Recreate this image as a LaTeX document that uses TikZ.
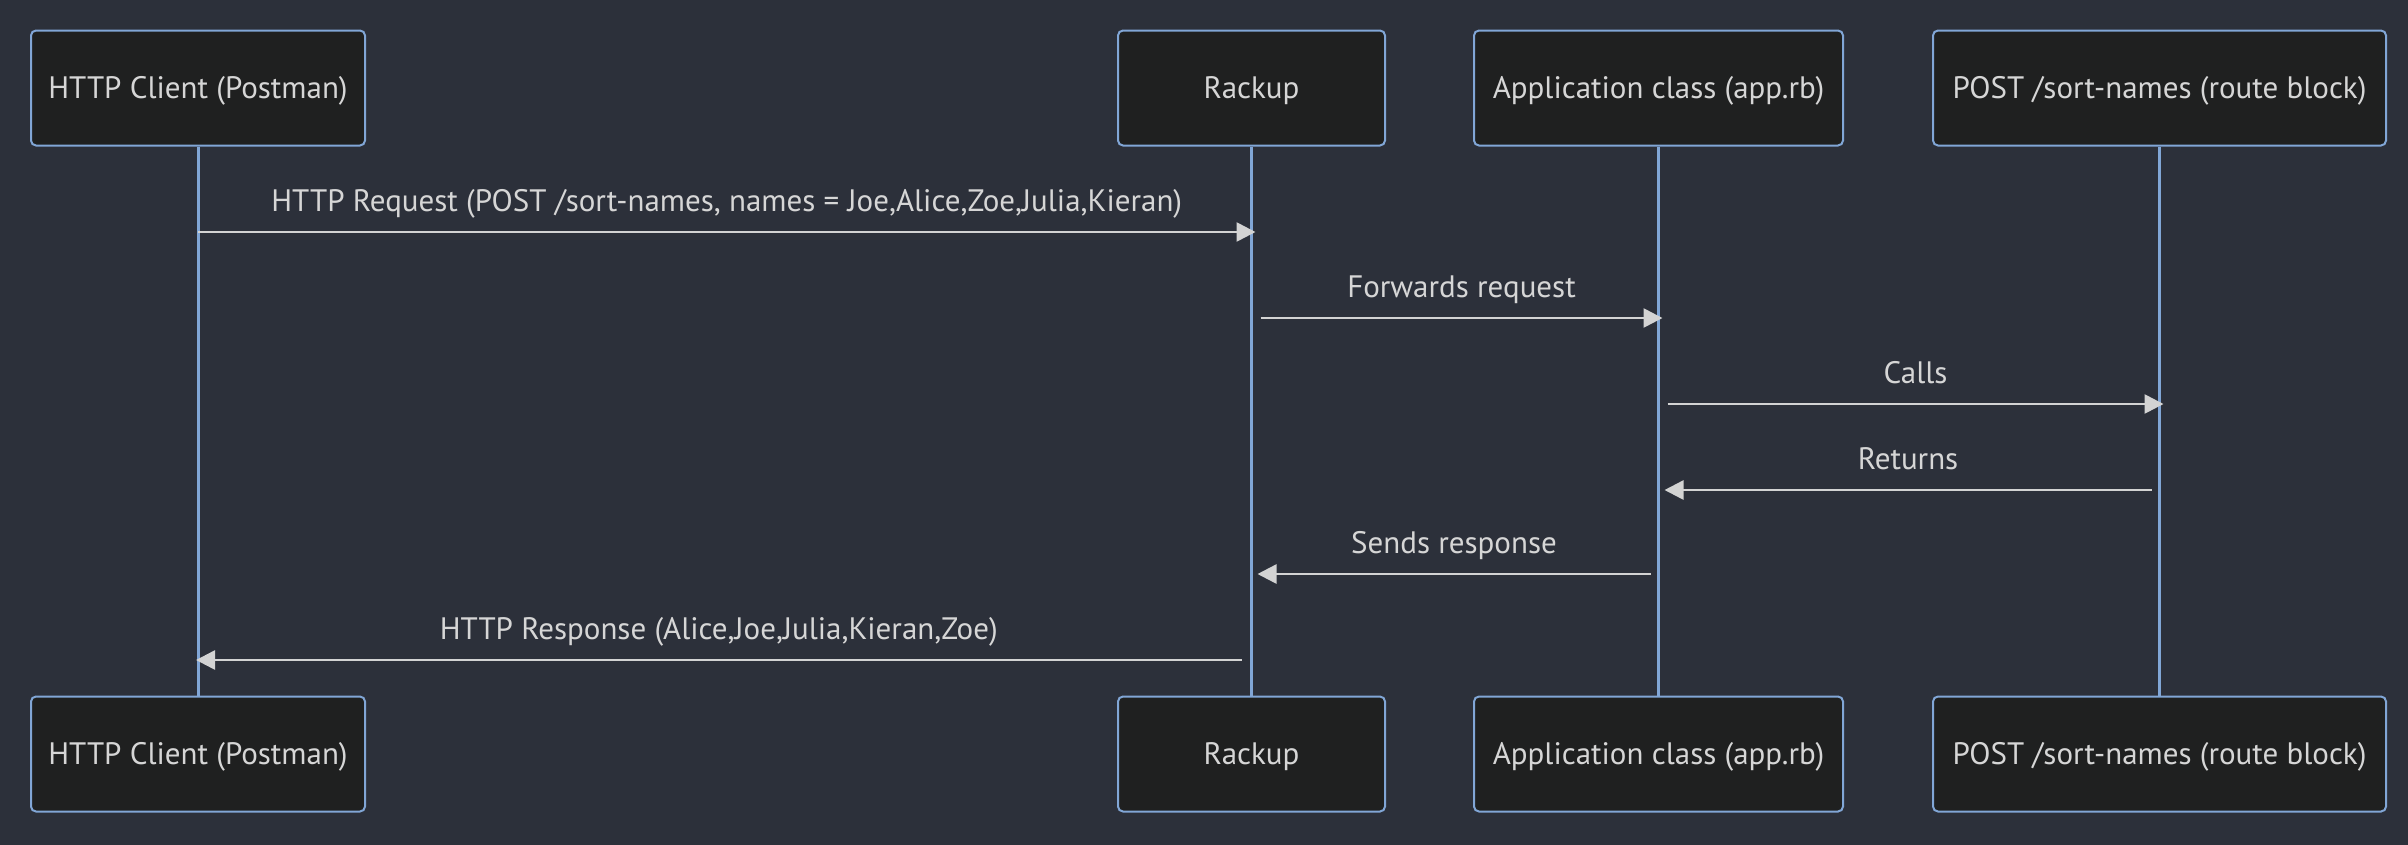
\documentclass[tikz,border=0pt]{standalone}
\usepackage{fontspec}
\setmainfont{PT Sans}
\usetikzlibrary{arrows.meta,calc}
\definecolor{bgc}{HTML}{2C303A}
\definecolor{boxfill}{HTML}{1F2020}
\definecolor{boxline}{HTML}{81A6D6}
\definecolor{txt}{HTML}{D6D6D6}
\definecolor{msg}{HTML}{D3D3D3}
\tikzset{
  actor/.style={draw=boxline, line width=2pt, fill=boxfill, rounded corners=5pt,
    minimum height=115pt, text=txt, font=\fontsize{31}{36}\selectfont, inner sep=0pt,
    text height=21.5pt, text depth=0pt},
  lifeline/.style={draw=boxline, line width=3pt},
  msgline/.style={draw=msg, line width=2.6pt, -{Triangle[length=19pt,width=19pt]}},
  msglabel/.style={text=txt, font=\fontsize{31}{36}\selectfont, anchor=base, inner sep=0pt}
}
\begin{document}
\begin{tikzpicture}[x=1pt,y=-1pt]
\useasboundingbox (0,0) rectangle (2408,844);
\fill[bgc] (-10,-10) rectangle (2418,854);
% top actors
\node[actor, minimum width=334pt] (a1) at (198,88) {HTTP Client (Postman)};
\node[actor, minimum width=267pt] (a2) at (1251.5,88) {Rackup};
\node[actor, minimum width=369pt] (a3) at (1658.5,88) {Application class (app.rb)};
\node[actor, minimum width=453pt] (a4) at (2159.5,88) {POST /sort-names (route block)};
% bottom actors
\node[actor, minimum width=334pt] (b1) at (198,754) {HTTP Client (Postman)};
\node[actor, minimum width=267pt] (b2) at (1251.5,754) {Rackup};
\node[actor, minimum width=369pt] (b3) at (1658.5,754) {Application class (app.rb)};
\node[actor, minimum width=453pt] (b4) at (2159.5,754) {POST /sort-names (route block)};
% lifelines
\foreach \i in {1,2,3,4} \draw[lifeline] (a\i.south) -- (b\i.north);
% message rows
\coordinate (r1) at (0,232);
\coordinate (r2) at (0,318);
\coordinate (r3) at (0,404);
\coordinate (r4) at (0,490);
\coordinate (r5) at (0,574);
\coordinate (r6) at (0,660);
% messages
\draw[msgline] (a1.south |- r1) -- ([xshift=4pt]a2.south |- r1)
  node[msglabel, midway, yshift=21pt] (l1) {HTTP Request (POST /sort-names, names = Joe,Alice,Zoe,Julia,Kieran)};
\draw[msgline] ([xshift=9pt]a2.south |- r2) -- ([xshift=4pt]a3.south |- r2)
  node[msglabel, midway, yshift=21pt] (l2) {Forwards request};
\draw[msgline] ([xshift=9pt]a3.south |- r3) -- ([xshift=4pt]a4.south |- r3)
  node[msglabel, midway, yshift=21pt] (l3) {Calls};
\draw[msgline] ([xshift=-8pt]a4.south |- r4) -- ([xshift=6pt]a3.south |- r4)
  node[msglabel, midway, yshift=21pt] (l4) {Returns};
\draw[msgline] ([xshift=-8pt]a3.south |- r5) -- ([xshift=6pt]a2.south |- r5)
  node[msglabel, midway, yshift=21pt] (l5) {Sends response};
\draw[msgline] ([xshift=-10pt]a2.south |- r6) -- ([xshift=-2pt]a1.south |- r6)
  node[msglabel, midway, yshift=21pt] (l6) {HTTP Response (Alice,Joe,Julia,Kieran,Zoe)};
\end{tikzpicture}
\end{document}
